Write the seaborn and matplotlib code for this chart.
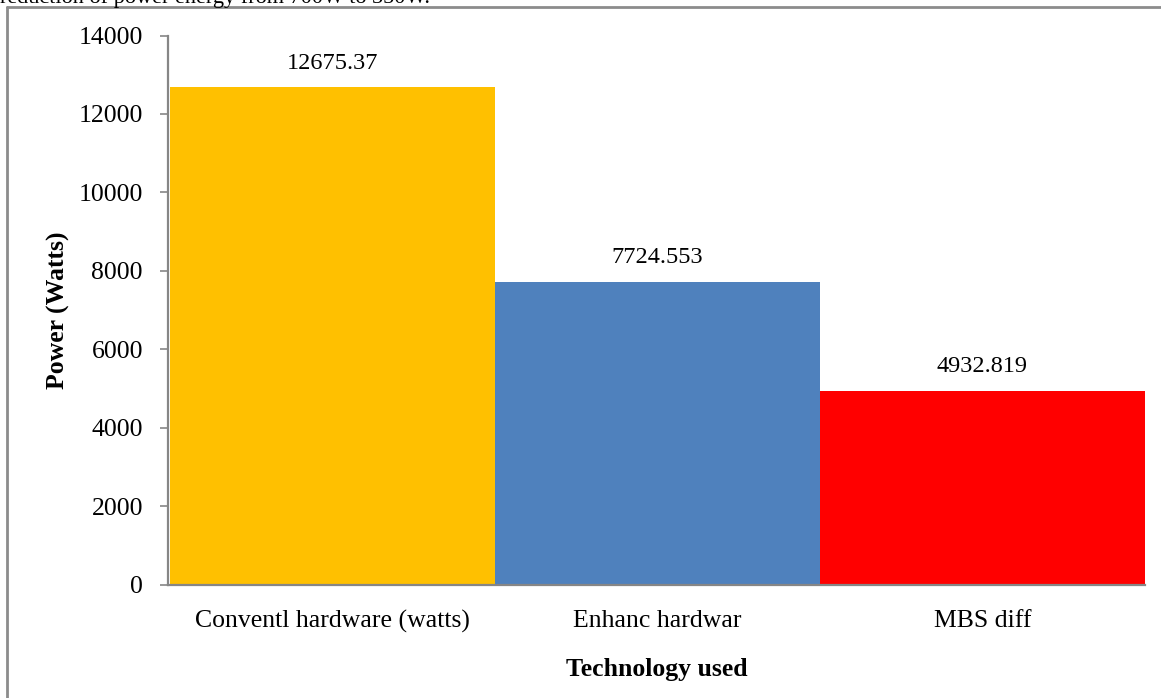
import matplotlib
matplotlib.use("Agg")
import matplotlib.pyplot as plt
import pandas as pd
import seaborn as sns
from matplotlib.lines import Line2D

CATEGORIES = ["Conventl hardware (watts)", "Enhanc hardwar", "MBS diff"]
POWER = [12675.37, 7724.553, 4932.819]
VALUE_LABELS = ["12675.37", "7724.553", "4932.819"]
COLORS = ["#FFC000", "#4F81BD", "#FF0000"]
Y_TICKS = [0, 2000, 4000, 6000, 8000, 10000, 12000, 14000]

sns.set_style("white")
plt.rcParams["font.family"] = ["Liberation Serif", "DejaVu Serif"]
plt.rcParams["text.color"] = "black"
plt.rcParams["axes.labelcolor"] = "black"
plt.rcParams["xtick.color"] = "black"
plt.rcParams["ytick.color"] = "black"

df = pd.DataFrame({"tech": CATEGORIES, "power": POWER})

fig = plt.figure(figsize=(11.61, 6.98), dpi=100)
ax = fig.add_axes([0.1447, 0.1626, 0.8415, 0.7865])

sns.barplot(data=df, x="tech", y="power", hue="tech", palette=COLORS,
            width=1.0, saturation=1, legend=False, linewidth=0, ax=ax)

for i, (v, lab) in enumerate(zip(POWER, VALUE_LABELS)):
    ax.annotate(lab, (i, v), xytext=(0, 13.5), textcoords="offset points",
                ha="center", va="baseline", fontsize=17.5, color="black")

ax.set_ylim(0, 14000)
ax.set_xlim(-0.505, 2.5)
ax.set_yticks(Y_TICKS)
ax.tick_params(axis="y", labelsize=18.5, length=6, width=1.2, color="#868686",
               labelcolor="black", direction="out", left=True, pad=12)
ax.tick_params(axis="x", labelsize=18.5, length=0, pad=18, labelcolor="black")

for side in ["top", "right"]:
    ax.spines[side].set_visible(False)
for side in ["left", "bottom"]:
    ax.spines[side].set_color("#868686")
    ax.spines[side].set_linewidth(1.6)

ax.set_xlabel("Technology used", fontsize=18.5, fontweight="bold", labelpad=18)
ax.set_ylabel("Power (Watts)", fontsize=18.5, fontweight="bold", labelpad=6)

# frame edge of the screenshot
fig.add_artist(Line2D([0.006, 0.006], [0, 0.990], transform=fig.transFigure,
                      color="#8c8c8c", linewidth=2))
fig.add_artist(Line2D([0.006, 1.0], [0.990, 0.990], transform=fig.transFigure,
                      color="#8c8c8c", linewidth=2))
fig.text(0.0, 0.9957, "reduction of power energy from 700W to 350W.",
         fontsize=16, va="baseline", ha="left")

fig.savefig("out.png", dpi=100)
